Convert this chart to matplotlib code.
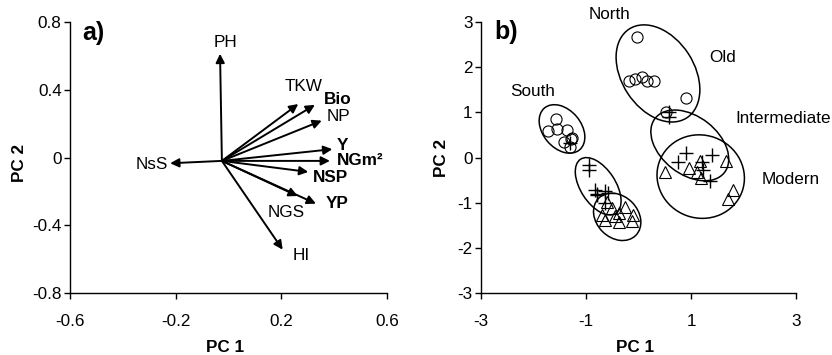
import matplotlib
matplotlib.use("Agg")
import matplotlib.pyplot as plt
from matplotlib.patches import Ellipse
from matplotlib.transforms import Affine2D

plt.rcParams['font.family'] = ['Liberation Sans', 'DejaVu Sans']

# ---------------- Panel a: loadings ----------------
traits = ['PH', 'TKW', 'Bio', 'NP', 'Y', 'NGm²', 'NSP', 'YP', 'NGS', 'HI', 'NsS']
pc1_load = [-0.032, 0.264, 0.327, 0.353, 0.393, 0.384, 0.302, 0.331, 0.262, 0.205, -0.221]
pc2_load = [0.611, 0.315, 0.310, 0.217, 0.049, -0.020, -0.085, -0.272, -0.227, -0.543, -0.034]
bold_traits = ['Bio', 'Y', 'NGm²', 'NSP', 'YP']
origin = (-0.025, -0.02)
label_pos = {'PH': (-0.011, 0.68), 'TKW': (0.286, 0.42), 'Bio': (0.413, 0.34),
             'NP': (0.416, 0.24), 'Y': (0.43, 0.07), 'NGm²': (0.497, -0.02),
             'NSP': (0.384, -0.12), 'YP': (0.41, -0.27), 'NGS': (0.217, -0.325),
             'HI': (0.277, -0.58), 'NsS': (-0.292, -0.04)}
a_xticks = [-0.6, -0.2, 0.2, 0.6]
a_xticklabels = ['-0.6', '-0.2', '0.2', '0.6']
a_yticks = [0.8, 0.4, 0, -0.4, -0.8]
a_yticklabels = ['0.8', '0.4', '0', '-0.4', '-0.8']

# ---------------- Panel b: scores ----------------
north_old_x = [-0.035, -0.175, -0.067, 0.06, 0.156, 0.295, 0.898, 0.517]
north_old_y = [2.67, 1.69, 1.73, 1.77, 1.68, 1.68, 1.32, 1.01]
south_old_x = [-1.571, -1.73, -1.558, -1.368, -1.413, -1.29, -1.27, -1.30]
south_old_y = [0.844, 0.587, 0.625, 0.60, 0.35, 0.40, 0.42, 0.24]
north_int_x = [0.59, 0.59, 0.90, 0.75, 1.40, 1.20, 1.22, 1.36]
north_int_y = [1.00, 0.90, 0.11, -0.10, 0.06, -0.10, -0.28, -0.52]
south_int_x = [-1.30, -0.95, -0.95, -0.83, -0.79, -0.64, -0.59, -0.80, -0.64]
south_int_y = [0.33, -0.16, -0.27, -0.72, -0.80, -0.73, -0.79, -0.83, -1.01]
north_mod_x = [0.50, 0.97, 1.17, 1.12, 1.19, 1.66, 1.80, 1.71]
north_mod_y = [-0.31, -0.24, -0.07, -0.32, -0.46, -0.07, -0.71, -0.91]
south_mod_x = [-0.60, -0.50, -0.70, -0.37, -0.25, -0.10, -0.64, -0.38, -0.13, -0.45]
south_mod_y = [-0.98, -1.12, -1.27, -1.22, -1.10, -1.27, -1.38, -1.42, -1.40, -1.30]

# ellipses: center x, center y, semi-axis a, semi-axis b (x units), angle (display deg)
ell_cx = [0.371, -1.457, -0.768, -0.406, 0.977, 1.185]
ell_cy = [1.857, 0.631, -0.636, -1.311, 0.267, -0.422]
ell_a = [1.008, 0.52, 0.615, 0.50, 0.838, 0.838]
ell_b = [0.69, 0.364, 0.333, 0.396, 0.55, 0.79]
ell_ang = [-57, -50, -57, -45, -38, -20]

b_ticks = [-3, -1, 1, 3]
b_ticklabels = ['-3', '-1', '1', '3']
b_yticks = [3, 2, 1, 0, -1, -2, -3]
b_yticklabels = ['3', '2', '1', '0', '-1', '-2', '-3']

group_labels = ['North', 'Old', 'South', 'Intermediate', 'Modern']
group_label_x = [-0.556, 1.604, -2.015, 2.76, 2.90]
group_label_y = [3.17, 2.214, 1.455, 0.867, -0.48]

FS = 12.3

fig = plt.figure(figsize=(8.32, 3.55), dpi=100)
axa = fig.add_axes([70/832, 1-293.3/355, 317/832, 271.6/355])
axb = fig.add_axes([481/832, 1-293.3/355, 315/832, 271.6/355])

for ax in (axa, axb):
    for s in ('top', 'right'):
        ax.spines[s].set_visible(False)
    for s in ('left', 'bottom'):
        ax.spines[s].set_linewidth(1.0)
    ax.tick_params(direction='out', length=4, width=1.0, labelsize=FS)
    ax.tick_params(axis='x', pad=11)
    ax.tick_params(axis='y', pad=2)

# Panel a
axa.set_xlim(-0.6, 0.6)
axa.set_ylim(-0.8, 0.8)
axa.set_xticks(a_xticks)
axa.set_xticklabels(a_xticklabels)
axa.set_yticks(a_yticks)
axa.set_yticklabels(a_yticklabels)
for name, x, y in zip(traits, pc1_load, pc2_load):
    axa.annotate('', xy=(x, y), xytext=origin,
                 arrowprops=dict(arrowstyle='-|>', color='black', lw=1.4,
                                 mutation_scale=13, shrinkA=0, shrinkB=0))
    lx, ly = label_pos[name]
    axa.text(lx, ly, name, ha='center', va='center', fontsize=FS,
             fontweight='bold' if name in bold_traits else 'normal')
axa.text(0.04, 0.958, 'a)', transform=axa.transAxes, fontsize=18,
         fontweight='bold', ha='left', va='center')
axa.set_xlabel('PC 1', fontsize=FS, fontweight='bold', va='center')
axa.xaxis.set_label_coords(0.49, -0.20)
axa.set_ylabel('PC 2', fontsize=FS, fontweight='bold', va='center')
axa.yaxis.set_label_coords(-0.158, 0.48)

# Panel b
axb.set_xlim(-3, 3)
axb.set_ylim(-3, 3)
axb.set_xticks(b_ticks)
axb.set_xticklabels(b_ticklabels)
axb.set_yticks(b_yticks)
axb.set_yticklabels(b_yticklabels)

mk = dict(linestyle='none', markerfacecolor='none', markeredgecolor='black', clip_on=False)
axb.plot(north_old_x, north_old_y, marker='o', markersize=8, markeredgewidth=0.8, **mk)
axb.plot(south_old_x, south_old_y, marker='o', markersize=8, markeredgewidth=0.8, **mk)
axb.plot(north_int_x, north_int_y, marker='+', markersize=9.5, markeredgewidth=1.0, **mk)
axb.plot(south_int_x, south_int_y, marker='+', markersize=9.5, markeredgewidth=1.0, **mk)
axb.plot(north_mod_x, north_mod_y, marker='^', markersize=9, markeredgewidth=0.8, **mk)
axb.plot(south_mod_x, south_mod_y, marker='^', markersize=9, markeredgewidth=0.8, **mk)

# y pixel/unit relative to x pixel/unit
k = (271.6 / 6) / (315 / 6)
for cx, cy, a, b, ang in zip(ell_cx, ell_cy, ell_a, ell_b, ell_ang):
    e = Ellipse((0, 0), 2*a, 2*b, angle=ang, facecolor='none', edgecolor='black', lw=1.1,
                clip_on=False)
    e.set_transform(Affine2D().scale(1, 1/k).translate(cx, cy) + axb.transData)
    axb.add_patch(e)

for t, x, y in zip(group_labels, group_label_x, group_label_y):
    axb.text(x, y, t, ha='center', va='center', fontsize=FS, clip_on=False)

axb.text(0.041, 0.963, 'b)', transform=axb.transAxes, fontsize=18,
         fontweight='bold', ha='left', va='center')
axb.set_xlabel('PC 1', fontsize=FS, fontweight='bold', va='center')
axb.xaxis.set_label_coords(0.49, -0.20)
axb.set_ylabel('PC 2', fontsize=FS, fontweight='bold', va='center')
axb.yaxis.set_label_coords(-0.125, 0.497)

fig.savefig('out.png', dpi=100)
